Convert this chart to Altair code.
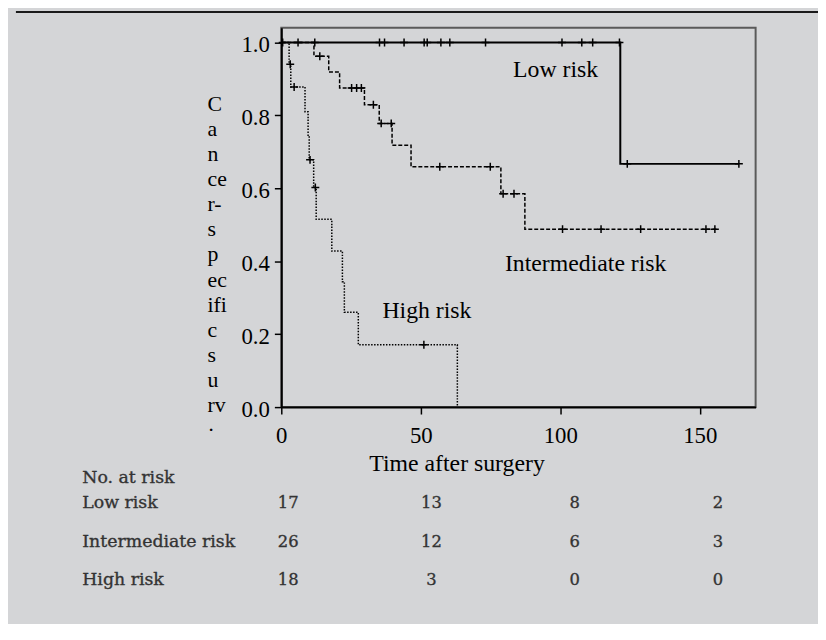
import altair as alt
import pandas as pd

# ---------------- data ----------------
low_t = [0, 121.5, 164]
low_s = [1.0, 0.667, 0.667]
low_cens_t = [0.5, 6, 12, 35.2, 37, 44, 51.2, 52.3, 57.2, 60.4, 73.2, 100.6, 107.7, 111.6, 121.2, 124, 164]
low_cens_s = [1.0, 1.0, 1.0, 1.0, 1.0, 1.0, 1.0, 1.0, 1.0, 1.0, 1.0, 1.0, 1.0, 1.0, 1.0, 0.667, 0.667]

int_t = [0, 11.7, 17.0, 20.9, 29.8, 35.1, 39.7, 46.5, 78.7, 87.3, 156]
int_s = [1.0, 0.962, 0.919, 0.875, 0.829, 0.778, 0.718, 0.659, 0.585, 0.488, 0.488]
int_cens_t = [13.8, 25.2, 27.0, 28.7, 33.0, 35.8, 39.4, 56.8, 74.9, 79.5, 83.4, 100.8, 114.6, 128.8, 152.2, 155.4]
int_cens_s = [0.962, 0.875, 0.875, 0.875, 0.829, 0.778, 0.778, 0.659, 0.659, 0.585, 0.585,
              0.488, 0.488, 0.488, 0.488, 0.488]

high_t = [0, 2.8, 3.4, 8.5, 9.6, 10.0, 11.6, 12.5, 18.1, 21.9, 22.6, 27.6, 63.1]
high_s = [1.0, 0.940, 0.878, 0.810, 0.743, 0.678, 0.602, 0.515, 0.428, 0.344, 0.260, 0.171, 0.0]
high_cens_t = [3.2, 4.6, 10.3, 12.2, 51.1]
high_cens_s = [0.940, 0.878, 0.678, 0.602, 0.171]

group_names = ["Low risk", "Intermediate risk", "High risk"]
label_t = [98.3, 109.1, 52.2]
label_s = [0.904, 0.373, 0.244]

x_ticks = [0, 50, 100, 150]
y_ticks = [0.0, 0.2, 0.4, 0.6, 0.8, 1.0]

risk_header = "No. at risk"
risk_low = [17, 13, 8, 2]
risk_int = [26, 12, 6, 3]
risk_high = [18, 3, 0, 0]

y_title_lines = ["C", "a", "n", "ce", "r-", "s", "p", "ec", "ifi", "c", "s", "u", "rv", "\u00b7"]

# ---------------- styling ----------------
SERIF = "Liberation Serif"
TABLE_FONT = "DejaVu Serif"
BG = "#d4d5d7"

x_scale = alt.Scale(domain=[0, 170], nice=False, zero=False)
y_scale = alt.Scale(domain=[0, 1.04], nice=False, zero=False)

x_axis = alt.Axis(values=x_ticks, title="Time after surgery", grid=False,
                  labelFont=SERIF, labelFontSize=23, labelColor="black", labelPadding=11,
                  labelFlush=False, tickSize=7, tickColor="black", tickWidth=1.5,
                  domainColor="black", domainWidth=2,
                  titleFont=SERIF, titleFontSize=24, titleFontWeight="normal", titleColor="black",
                  titleX=177, titleY=64, titleAlign="center", titleBaseline="alphabetic")
y_axis = alt.Axis(values=y_ticks, format=".1f", title=y_title_lines, grid=False,
                  labelFont=SERIF, labelFontSize=23, labelColor="black", labelPadding=5,
                  labelOffset=2, tickSize=7, tickColor="black", tickWidth=1.5,
                  domainColor="black", domainWidth=2,
                  titleFont=SERIF, titleFontSize=22, titleFontWeight="normal", titleColor="black",
                  titleAngle=0, titleAlign="left", titleBaseline="top", titleLineHeight=25.4,
                  titleX=-75, titleY=66)

low_df = pd.DataFrame({"t": low_t, "s": low_s})
int_df = pd.DataFrame({"t": int_t, "s": int_s})
high_df = pd.DataFrame({"t": high_t, "s": high_s})
cens_df = pd.DataFrame({"t": low_cens_t + int_cens_t + high_cens_t,
                        "s": low_cens_s + int_cens_s + high_cens_s})
lab_df = pd.DataFrame({"name": group_names, "t": label_t, "s": label_s})


def step_line(df, width, dash=None):
    kw = dict(interpolate="step-after", color="black", strokeWidth=width)
    if dash:
        kw["strokeDash"] = dash
    return alt.Chart(df).mark_line(**kw).encode(
        x=alt.X("t:Q", scale=x_scale, axis=x_axis),
        y=alt.Y("s:Q", scale=y_scale, axis=y_axis),
    )


low_line = step_line(low_df, 2)
int_line = step_line(int_df, 1.5, [4, 2])
high_line = step_line(high_df, 1.5, [1.5, 1.5])

cens = alt.Chart(cens_df).mark_point(
    shape="M0,-1L0,1M-1,0L1,0", size=64, filled=False, color="black",
    strokeWidth=1.5, opacity=1
).encode(x=alt.X("t:Q", scale=x_scale), y=alt.Y("s:Q", scale=y_scale))

labels = alt.Chart(lab_df).mark_text(
    font=SERIF, fontSize=24, color="black", align="center", baseline="alphabetic"
).encode(x=alt.X("t:Q", scale=x_scale), y=alt.Y("s:Q", scale=y_scale), text="name:N")

km = alt.layer(low_line, int_line, high_line, cens, labels)

# ---------------- number-at-risk table ----------------
rows = []
for r, (name, vals) in enumerate(zip(group_names, [risk_low, risk_int, risk_high]), start=1):
    for c, v in enumerate(vals):
        rows.append({"row": r, "col": c, "n": str(v)})
num_df = pd.DataFrame(rows)
rowlab_df = pd.DataFrame({"row": [1, 2, 3], "name": group_names})
head_df = pd.DataFrame({"row": [1], "name": [risk_header]})

row_scale = alt.Scale(domain=[1, 3], range=[480, 558], nice=False, zero=False)
col_scale = alt.Scale(domain=[0, 3], range=[7, 441], nice=False, zero=False)

tbl_color = "#333333"
tbl_style = dict(font=TABLE_FONT, color=tbl_color, stroke=tbl_color, strokeWidth=0.35,
                 baseline="middle")
nums = alt.Chart(num_df).mark_text(fontSize=16.5, align="center", **tbl_style).encode(
    x=alt.X("col:Q", scale=col_scale, axis=None),
    y=alt.Y("row:Q", scale=row_scale, axis=None), text="n:N")
rowlabs = alt.Chart(rowlab_df).mark_text(fontSize=17.5, align="left", **tbl_style).encode(
    x=alt.value(-201), y=alt.Y("row:Q", scale=row_scale, axis=None), text="name:N")
head = alt.Chart(head_df).mark_text(fontSize=17.5, align="left", dy=-25, **tbl_style).encode(
    x=alt.value(-201), y=alt.Y("row:Q", scale=row_scale, axis=None), text="name:N")

top_rule = alt.Chart(pd.DataFrame({"a": [0]})).mark_rule(color="#1a1a1a", strokeWidth=2).encode(
    x=alt.value(-268), x2=alt.value(542), y=alt.value(-16))

table = alt.layer(nums, rowlabs, head, top_rule)

chart = alt.layer(km, table).resolve_scale(x="independent", y="independent").properties(
    width=479, height=383,
    autosize=alt.AutoSizeParams(type="none"),
    padding={"left": 276, "top": 17, "right": 63, "bottom": 216},
).configure(background=BG).configure_view(stroke="#5a5a5a", strokeWidth=2)

chart.save("out.html", embed_options={"renderer": "svg", "actions": False})
